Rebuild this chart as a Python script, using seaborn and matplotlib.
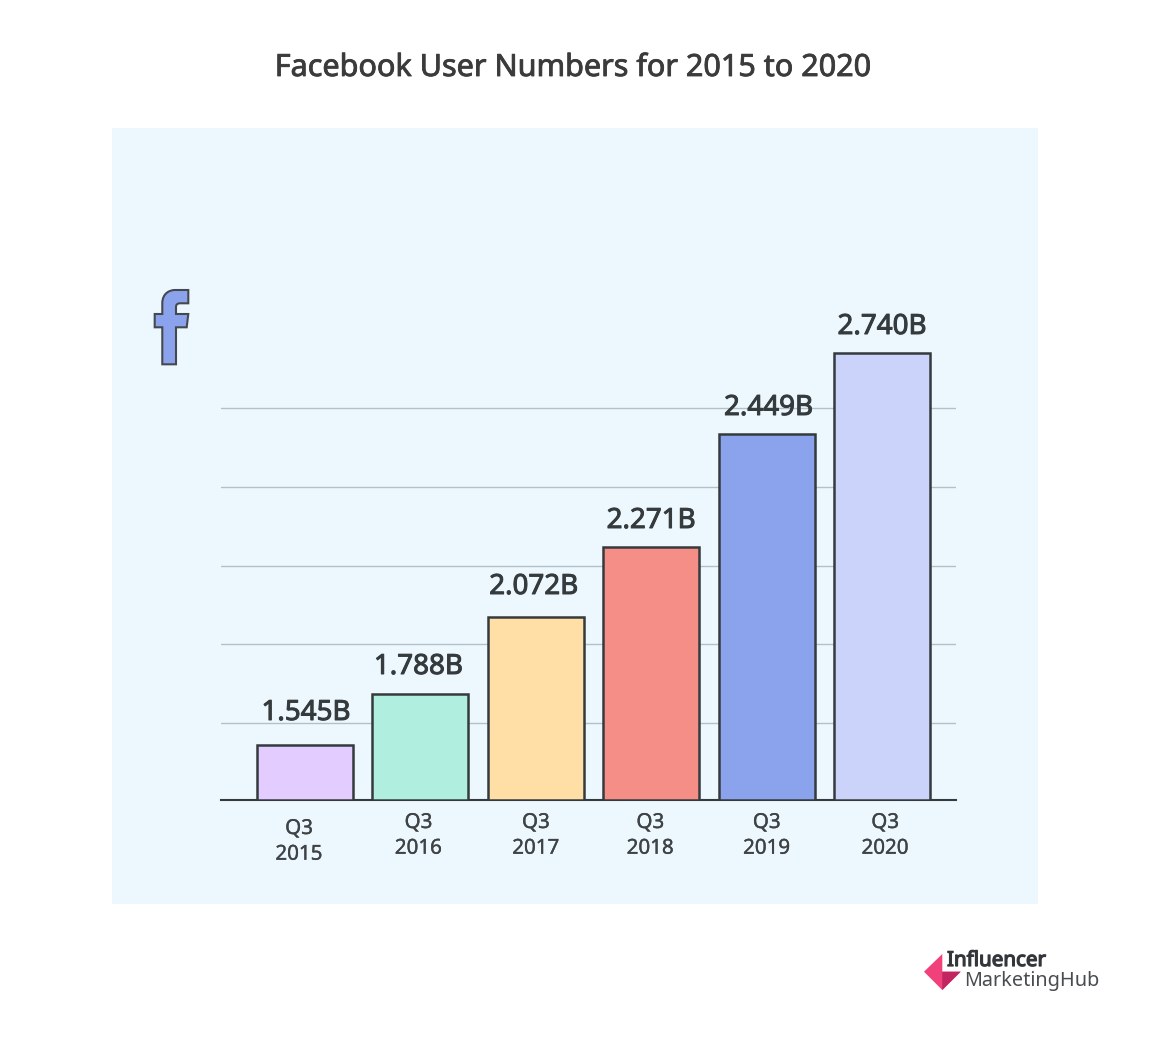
import matplotlib
matplotlib.use('Agg')
import matplotlib.pyplot as plt
import matplotlib.patheffects as pe
from matplotlib.patches import Rectangle, Polygon, PathPatch
from matplotlib.path import Path
import pandas as pd
import seaborn as sns

# Data (bars are not to scale in the original, so heights are kept apart)
quarters = ['Q3\n2015', 'Q3\n2016', 'Q3\n2017', 'Q3\n2018', 'Q3\n2019', 'Q3\n2020']
users_b = [1.545, 1.788, 2.072, 2.271, 2.449, 2.740]
bar_heights = [55, 106, 183, 253, 366, 447]
grid_levels = [77, 156, 234, 313, 392]
bar_colors = ['#E3CCFF', '#B0EFDF', '#FFDFA6', '#F58E87', '#8BA3EC', '#CBD3FA']

W, H = 1162, 1044
DARK = '#353A3D'


# Installed fonts lack the medium weights, so thicken the outline a bit
def heavier(color, width):
    return [pe.withStroke(linewidth=width, foreground=color)]


sns.set_theme(style='white')
plt.rcParams['font.family'] = ['Noto Sans', 'DejaVu Sans']

fig = plt.figure(figsize=(W / 100, H / 100), dpi=100, facecolor='white')

# Background layer in pixel coordinates
bg = fig.add_axes([0, 0, 1, 1], zorder=0)
bg.set_xlim(0, W)
bg.set_ylim(H, 0)
bg.axis('off')
bg.add_patch(Rectangle((112, 128), 926, 776, facecolor='#ECF8FE', edgecolor='none'))
bg.text(573, 68, 'Facebook User Numbers for 2015 to 2020', ha='center', va='center',
        fontsize=22, color='#3B3B3B', path_effects=heavier('#3B3B3B', 0.6))

# facebook "f" icon
f_verts = [(162.3, 364.3), (162.3, 327.3), (154.7, 327.3), (154.7, 314), (162.3, 314), (162.3, 303.3),
           (162.3, 293), (170, 290), (175, 290), (188.3, 290), (188.3, 303.3), (180, 303.3),
           (177, 303.3), (176, 305), (176, 307), (176, 314), (188.3, 314), (186.7, 327.3),
           (176, 327.3), (176, 364.3), (162.3, 364.3)]
f_codes = [Path.MOVETO, Path.LINETO, Path.LINETO, Path.LINETO, Path.LINETO, Path.LINETO,
           Path.CURVE4, Path.CURVE4, Path.CURVE4, Path.LINETO, Path.LINETO, Path.LINETO,
           Path.CURVE4, Path.CURVE4, Path.CURVE4, Path.LINETO, Path.LINETO, Path.LINETO,
           Path.LINETO, Path.LINETO, Path.CLOSEPOLY]
bg.add_patch(PathPatch(Path(f_verts, f_codes), facecolor='#8BA3EC', edgecolor='#45494F', lw=1.5))

# Influencer MarketingHub logo
bg.add_patch(Polygon([(924, 971.7), (942.3, 954), (942.3, 971.7), (960.7, 971.7), (942.3, 990)],
                     facecolor='#F0417A', edgecolor='none'))
bg.add_patch(Polygon([(942.3, 971.7), (960.7, 971.7), (942.3, 990)], facecolor='#C2245F', edgecolor='none'))
bg.text(947, 961, 'Influencer', ha='left', va='center', fontsize=14.8, color='#33363A',
        path_effects=heavier('#33363A', 0.9))
bg.text(964, 981, 'MarketingHub', ha='left', va='center', fontsize=14.3, color='#4A4D50')

# Bars on a transparent axes, baseline at y=800
ax = fig.add_axes([221 / W, (H - 800) / H, 735 / W, 500 / H], zorder=1)
ax.patch.set_alpha(0)

df = pd.DataFrame({'quarter': quarters, 'height': bar_heights})
sns.barplot(data=df, x='quarter', y='height', hue='quarter', palette=bar_colors, legend=False,
            saturation=1, width=0.832, edgecolor=DARK, linewidth=1.8, ax=ax, zorder=3)

ax.set_xlim(-0.728, 5.64)
ax.set_ylim(0, 500)
ax.set_xlabel('')
ax.set_ylabel('')
ax.set_yticks(grid_levels)
ax.set_yticklabels([])
ax.set_xticks([])
ax.grid(axis='y', color='#B4C0C8', lw=1)
ax.set_axisbelow(True)
sns.despine(ax=ax, left=True, top=True, right=True)
ax.spines['bottom'].set_color(DARK)
ax.spines['bottom'].set_linewidth(1.5)

# Pixel nudges, the hand placed labels in the original are uneven
value_nudge = [(1, 32), (-2, 27), (-2, 30), (0, 26), (2, 26), (0, 26)]
tick_nudge = [(-6, 19), (-2, 13), (0, 13), (-1, 13), (0, 13), (3, 13)]

for i, (val, h) in enumerate(zip(users_b, bar_heights)):
    dx, dy = value_nudge[i]
    ax.annotate(f'{val:.3f}B', xy=(i, h), xytext=(dx, dy), textcoords='offset pixels',
                ha='center', va='center', fontsize=20, color=DARK, zorder=5,
                path_effects=heavier(DARK, 0.7))
    tx, ty = tick_nudge[i]
    ax.annotate(quarters[i], xy=(i, 0), xytext=(tx, -ty), textcoords='offset pixels', ha='center', va='top',
                fontsize=14.8, color='#3F4346', linespacing=1.38, annotation_clip=False,
                path_effects=heavier('#3F4346', 0.25))

fig.savefig('out.png', dpi=100, facecolor='white')
